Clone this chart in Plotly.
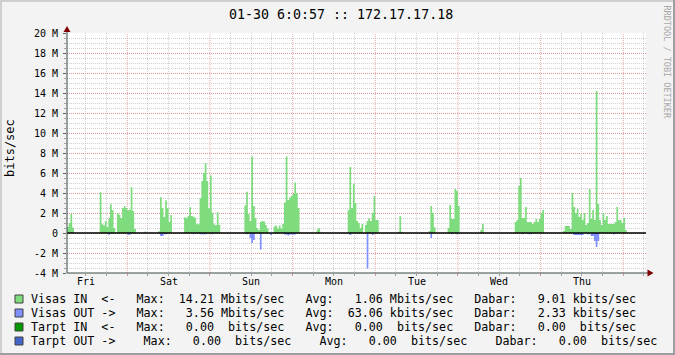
import plotly.graph_objects as go

# ---------------- data ----------------
# time axis in hours relative to the Friday day boundary; 30-minute RRD slots
SLOT_HOURS = 0.5
X_RANGE = [-17.5, 150.6]
Y_RANGE = [-4, 20]

day_label_hours = [-12, 12, 36, 60, 84, 108, 132]
day_labels = ["Fri", "Sat", "Sun", "Mon", "Tue", "Wed", "Thu"]
day_boundary_hours = [0, 24, 48, 72, 96, 120, 144]
six_hour_grid = [h for h in range(-12, 151, 6) if h % 24 != 0]

y_tick_vals = [-4, -2, 0, 2, 4, 6, 8, 10, 12, 14, 16, 18, 20]
y_tick_text = ["-4 M", "-2 M", "0", "2 M", "4 M", "6 M", "8 M", "10 M",
               "12 M", "14 M", "16 M", "18 M", "20 M"]

# Visas IN (Mbit/s) per 30-min slot; each segment begins at a slot index
in_fri_1 = [0.6, 1.0, 1.9, 0.55]
in_fri_2 = [4.07, 0.87, 0.77, 1.2, 0.6, 1.47, 2.87, 2.27, 0.5, 0, 2.0, 1.8, 1.5,
            2.5, 2.67, 2.5, 2.27, 2.33, 4.57, 2.2, 0.4]
in_fri_3 = [0.15]
in_sat_1 = [0.17, 3.57, 2.47, 1.6, 3.27, 2.5, 1.1, 1.8]
in_sat_2 = [1.57, 1.5, 1.7, 2.57, 1.7, 1.63, 1.53, 0.87, 0.87, 3.47, 5.2, 6.0,
            6.97, 5.2, 2.47, 5.77, 2.03, 0.87, 0.77, 2.07, 0.8]
in_sun_1 = [2.75, 4.13, 1.9, 1.2, 7.65, 2.7, 1.5, 0.5, 0.3, 1.1, 1.2, 1.15, 0.8, 0.45]
in_sun_2 = [0.65, 0.75, 0.45, 0.75, 0.45, 0.9, 3.05, 7.65, 3.3, 3.55, 3.7, 3.9,
            5.05, 4.0, 2.5]
in_sun_3 = [0.35, 0.5]
in_mon_1 = [2.3, 6.6, 2.5, 4.9, 3.0, 1.2, 1.0, 0.5, 0.9, 0, 0.8, 1.2, 1.5, 1.2,
            2.0, 3.7, 1.3, 1.3]
in_tue_1 = [0.13, 1.67, 0.13]
in_tue_2 = [0.2, 2.7, 2.03, 0.57]
in_tue_3 = [0.5, 2.8, 1.4, 1.4, 4.4, 4.2, 2.7]
in_wed_1 = [0.3, 0.9]
in_wed_2 = [1.1, 1.3, 4.7, 5.5, 1.5, 1.5, 2.6, 1.1, 1.1, 1.1, 0.9, 1.1, 1.4,
            1.1, 1.4, 2.0, 2.3]
in_thu_1 = [0.2, 0.7, 0.7, 0.7, 0.4, 4.0, 2.6, 2.0, 2.4, 1.6, 1.9, 1.3, 2.0,
            0.8, 1.0, 4.4, 1.4, 2.3, 1.3, 14.21, 2.9, 1.3, 0.8, 2.0, 1.3, 1.7,
            0.9, 0.9, 0.9, 0.9, 1.1, 2.6, 1.3, 1.3, 1.0, 1.5, 0.3]

in_segments = [(-35, in_fri_1), (-16, in_fri_2), (10, in_fri_3), (18, in_sat_1),
               (33, in_sat_2), (68, in_sun_1), (85, in_sun_2), (110, in_sun_3),
               (128, in_mon_1), (157, in_tue_1), (175, in_tue_2), (186, in_tue_3),
               (205, in_wed_1), (225, in_wed_2), (253, in_thu_1)]

# Visas OUT (Mbit/s), drawn below zero
out_segments = [(-11, [0.17]), (0, [0.17, 0.17]), (19, [0.3, 0.3, 0.13, 0.13]),
                (38, [0.13]), (42, [0.13, 0.13, 0.13, 0.13]), (49, [0.13]),
                (69, [0.13]), (71, [0.5, 1.0, 0.7]), (77, [1.65]), (83, [0.2]),
                (91, [0.15, 0.15, 0.25, 0.15, 0.15, 0.15, 0.15]),
                (129, [0.2]), (139, [3.56]), (142, [0.2]), (176, [0.5]),
                (188, [0.13]), (191, [0.13]), (229, [0.13]), (233, [0.13, 0.13]),
                (259, [0.2, 0.2, 0.2, 0.2, 0.2, 0.2]), (267, [0.15]),
                (269, [0.3, 0.3, 0.8, 1.4, 0.8]), (282, [0.15])]

legend_colors = ["#7EDC7E", "#8090FF", "#009900", "#4466CC"]
legend_rows = [
    "Visas IN  <-   Max:  14.21 Mbits/sec   Avg:   1.06 Mbits/sec   Dabar:   9.01 kbits/sec",
    "Visas OUT ->   Max:   3.56 Mbits/sec   Avg:  63.06 kbits/sec   Dabar:   2.33 kbits/sec",
    "Tarpt IN  <-   Max:   0.00  bits/sec   Avg:   0.00  bits/sec   Dabar:   0.00  bits/sec",
    "Tarpt OUT ->    Max:   0.00  bits/sec    Avg:   0.00  bits/sec    Dabar:   0.00  bits/sec",
]
title_text = "01-30 6:0:57 :: 172.17.17.18"
y_title = "bits/sec"
watermark = "RRDTOOL / TOBI OETIKER"

# ---------------- build ----------------
FIRST_SLOT, LAST_SLOT = -35, 290


def step_series(segments, sign=1):
    vals = {k: 0.0 for k in range(FIRST_SLOT, LAST_SLOT + 1)}
    for start, seg in segments:
        for i, v in enumerate(seg):
            vals[start + i] = sign * v
    ks = sorted(vals)
    xs = [k * SLOT_HOURS for k in ks] + [(ks[-1] + 1) * SLOT_HOURS]
    ys = [vals[k] for k in ks] + [vals[ks[-1]]]
    return xs, ys


in_x, in_y = step_series(in_segments)
out_x, out_y = step_series(out_segments, -1)

W_IMG, H_IMG = 675, 355
L, T, PW, PH = 67, 33, 579, 240
BG = "#F3F3F3"
FONT = "DejaVu Sans Mono"


def px(x):
    return (x - L) / PW


def py(y):
    return (T + PH - y) / PH


GRID = "rgba(175,175,175,0.6)"
MGRID = "rgba(225,110,110,0.6)"
AXIS = "#3A4A45"

# day-boundary major grid lines as a dotted line trace behind the data
grid_x, grid_y = [], []
for h in day_boundary_hours:
    grid_x += [h, h, None]
    grid_y += [Y_RANGE[0], Y_RANGE[1], None]

fig = go.Figure()
fig.add_trace(go.Scatter(x=grid_x, y=grid_y, mode="lines",
                         line=dict(color=MGRID, width=1, dash="1px,1px"),
                         showlegend=False, hoverinfo="skip", cliponaxis=True))
fig.add_trace(go.Scatter(x=in_x, y=in_y, mode="lines", line=dict(width=0, shape="hv"),
                         fill="tozeroy", fillcolor=legend_colors[0],
                         showlegend=False, hoverinfo="skip"))
fig.add_trace(go.Scatter(x=out_x, y=out_y, mode="lines", line=dict(width=0, shape="hv"),
                         fill="tozeroy", fillcolor=legend_colors[1],
                         showlegend=False, hoverinfo="skip"))

shapes = []
# zero line
shapes.append(dict(type="line", xref="paper", yref="y", x0=0, x1=1, y0=0, y1=0,
                   line=dict(color="#000000", width=1.5), layer="above"))
# axis lines
shapes.append(dict(type="line", xref="paper", yref="paper", x0=0, x1=0, y0=0, y1=py(30),
                   line=dict(color=AXIS, width=1), layer="above"))
shapes.append(dict(type="line", xref="paper", yref="paper", x0=0, x1=px(649), y0=0, y1=0,
                   line=dict(color=AXIS, width=1), layer="above"))
# arrows
shapes.append(dict(type="path", xref="paper", yref="paper",
                   path=f"M {px(67)} {py(26)} L {px(63.5)} {py(32)} L {px(70.5)} {py(32)} Z",
                   fillcolor="#7F0000", line=dict(width=0), layer="above"))
shapes.append(dict(type="path", xref="paper", yref="paper",
                   path=f"M {px(653.5)} {py(273)} L {px(647.5)} {py(269.5)} L {px(647.5)} {py(276.5)} Z",
                   fillcolor="#7F0000", line=dict(width=0), layer="above"))
# frame shading
shapes.append(dict(type="rect", xref="paper", yref="paper", x0=px(0), x1=px(W_IMG), y0=py(0), y1=py(2),
                   fillcolor="#CFCFCF", line=dict(width=0)))
shapes.append(dict(type="rect", xref="paper", yref="paper", x0=px(0), x1=px(2), y0=py(0), y1=py(H_IMG),
                   fillcolor="#CFCFCF", line=dict(width=0)))
shapes.append(dict(type="rect", xref="paper", yref="paper", x0=px(0), x1=px(W_IMG), y0=py(H_IMG - 2), y1=py(H_IMG),
                   fillcolor="#9E9E9E", line=dict(width=0)))
shapes.append(dict(type="rect", xref="paper", yref="paper", x0=px(W_IMG - 2), x1=px(W_IMG), y0=py(0), y1=py(H_IMG),
                   fillcolor="#9E9E9E", line=dict(width=0)))

annotations = []
# day labels on the time axis
for h, lab in zip(day_label_hours, day_labels):
    annotations.append(dict(text=lab, xref="x", yref="paper", x=h, y=py(281.5),
                            xanchor="center", yanchor="middle", showarrow=False,
                            font=dict(family=FONT, size=10, color="#000000")))

row_y = [299.0, 313.0, 327.0, 341.0]
for i, (txt, col) in enumerate(zip(legend_rows, legend_colors)):
    yc = row_y[i]
    shapes.append(dict(type="rect", xref="paper", yref="paper", x0=px(15), x1=px(23),
                       y0=py(yc + 4), y1=py(yc - 4), fillcolor=col,
                       line=dict(color="#404040", width=1)))
    annotations.append(dict(text=txt.replace(" ", "\u00a0"), xref="paper", yref="paper",
                            x=px(28.5), y=py(yc), xanchor="left", yanchor="middle", showarrow=False,
                            font=dict(family=FONT, size=11.7, color="#000000")))

annotations.append(dict(text=title_text, xref="paper", yref="paper", x=px(341.3), y=py(14),
                        xanchor="center", yanchor="middle", showarrow=False,
                        font=dict(family=FONT, size=13.3, color="#000000")))
annotations.append(dict(text=y_title, xref="paper", yref="paper", x=px(10), y=py(148),
                        xanchor="center", yanchor="middle", textangle=-90, showarrow=False,
                        font=dict(family=FONT, size=12, color="#000000")))
annotations.append(dict(text=watermark.replace(" ", "\u00a0"), xref="paper", yref="paper", x=px(666.5), y=py(62),
                        xanchor="center", yanchor="middle", textangle=90, showarrow=False,
                        font=dict(family=FONT, size=8.5, color="#A8A8A8")))

fig.update_layout(
    width=W_IMG, height=H_IMG,
    margin=dict(l=L, r=W_IMG - L - PW, t=T, b=H_IMG - T - PH, pad=0),
    paper_bgcolor=BG, plot_bgcolor="#FFFFFF",
    shapes=shapes, annotations=annotations,
    showlegend=False,
    xaxis=dict(range=X_RANGE, tickmode="array", tickvals=day_boundary_hours,
               ticktext=[""] * len(day_boundary_hours),
               showgrid=False,
               ticks="outside", ticklen=2, tickcolor="rgba(200,100,100,0.7)",
               showline=False, zeroline=False,
               minor=dict(tickmode="array", tickvals=six_hour_grid, showgrid=True,
                          gridcolor=GRID, griddash="1px,1px",
                          ticks="outside", ticklen=2, tickcolor="#A0A0A0")),
    yaxis=dict(range=Y_RANGE, tickmode="array", tickvals=y_tick_vals, ticktext=y_tick_text,
               showgrid=True, gridcolor=MGRID, griddash="1px,1px", gridwidth=1,
               ticks="outside", ticklen=3, tickcolor="#606060",
               showline=False, zeroline=False,
               tickfont=dict(family=FONT, size=10, color="#000000"),
               ticklabelstandoff=3,
               minor=dict(tick0=0, dtick=0.5, showgrid=True, gridcolor=GRID, griddash="1px,1px",
                          ticks="outside", ticklen=2, tickcolor="#A0A0A0")),
)

fig.write_html("out.html")
